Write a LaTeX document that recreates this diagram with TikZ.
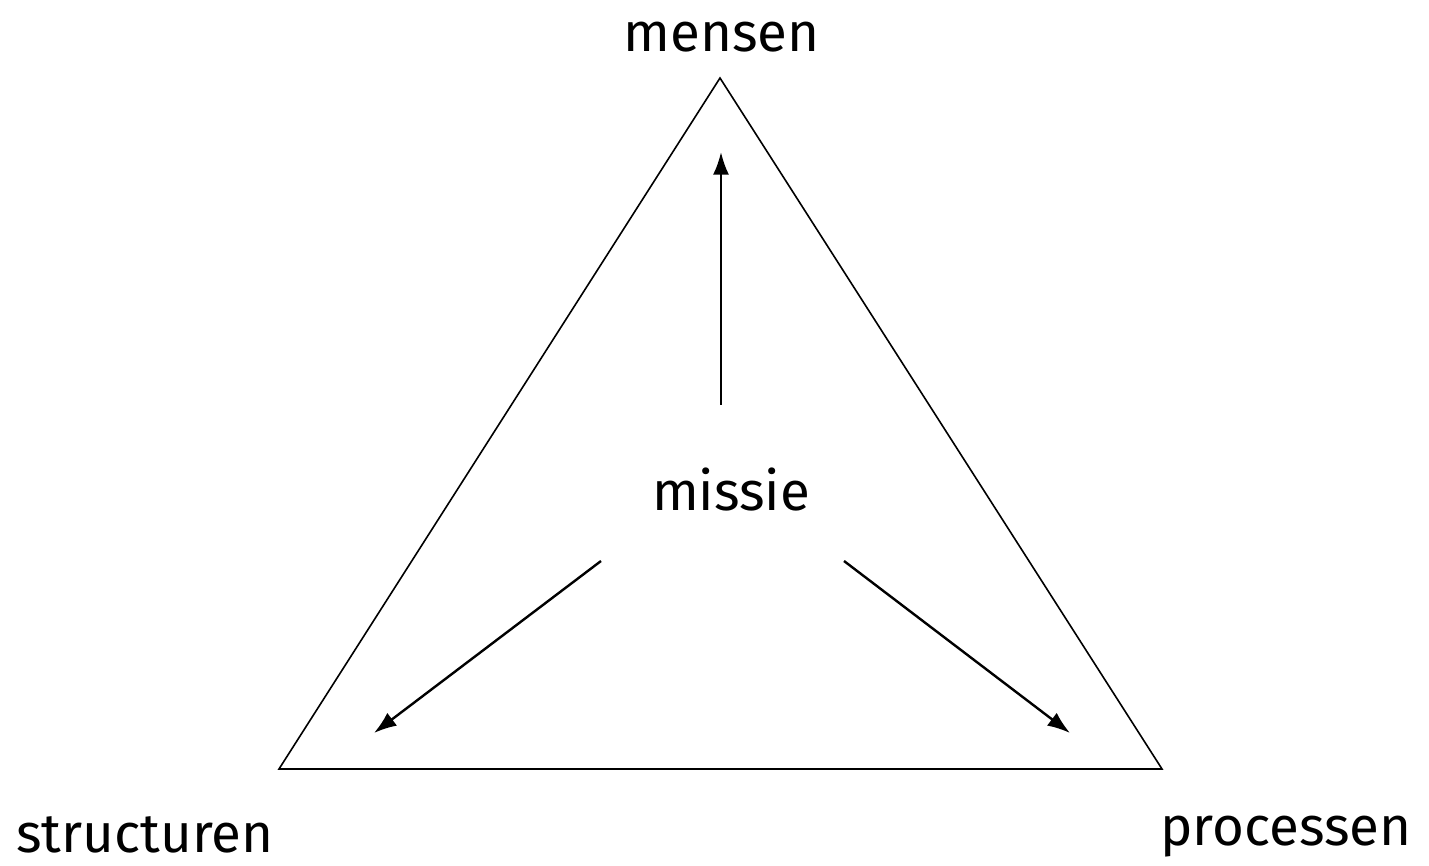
\documentclass[tikz,border=0pt]{standalone}
\usepackage{fontspec}
\setmainfont{Fira Sans}
\usetikzlibrary{arrows.meta}
\begin{document}
\begin{tikzpicture}[x=0.75pt,y=-0.75pt,
  edge/.style={line width=1.2pt},
  arr/.style={line width=1.8pt,-{Latex[length=17pt,width=12pt]}},
  lbl/.style={anchor=base,inner sep=0pt,font=\fontsize{41}{48}\selectfont}]
\useasboundingbox (0,0) rectangle (1429,866);
\coordinate (T) at (720,78);
\coordinate (L) at (279,769);
\coordinate (R) at (1162,769);
\draw[edge,line join=miter] (T) -- (L) -- (R) -- cycle;
\node[lbl] (mensen) at (721.5,52) {mensen};
\node[lbl] (missie) at (731,510) {missie};
\node[lbl] (structuren) at (145,852) {structuren};
\node[lbl] (processen) at (1286,845) {processen};
\coordinate (u0) at (721,405);
\coordinate (u1) at (721,152);
\coordinate (l0) at (601,561);
\coordinate (l1) at (374,733);
\coordinate (r0) at (844,561);
\coordinate (r1) at (1070,733);
\draw[arr] (u0) -- (u1);
\draw[arr] (l0) -- (l1);
\draw[arr] (r0) -- (r1);
\end{tikzpicture}
\end{document}
